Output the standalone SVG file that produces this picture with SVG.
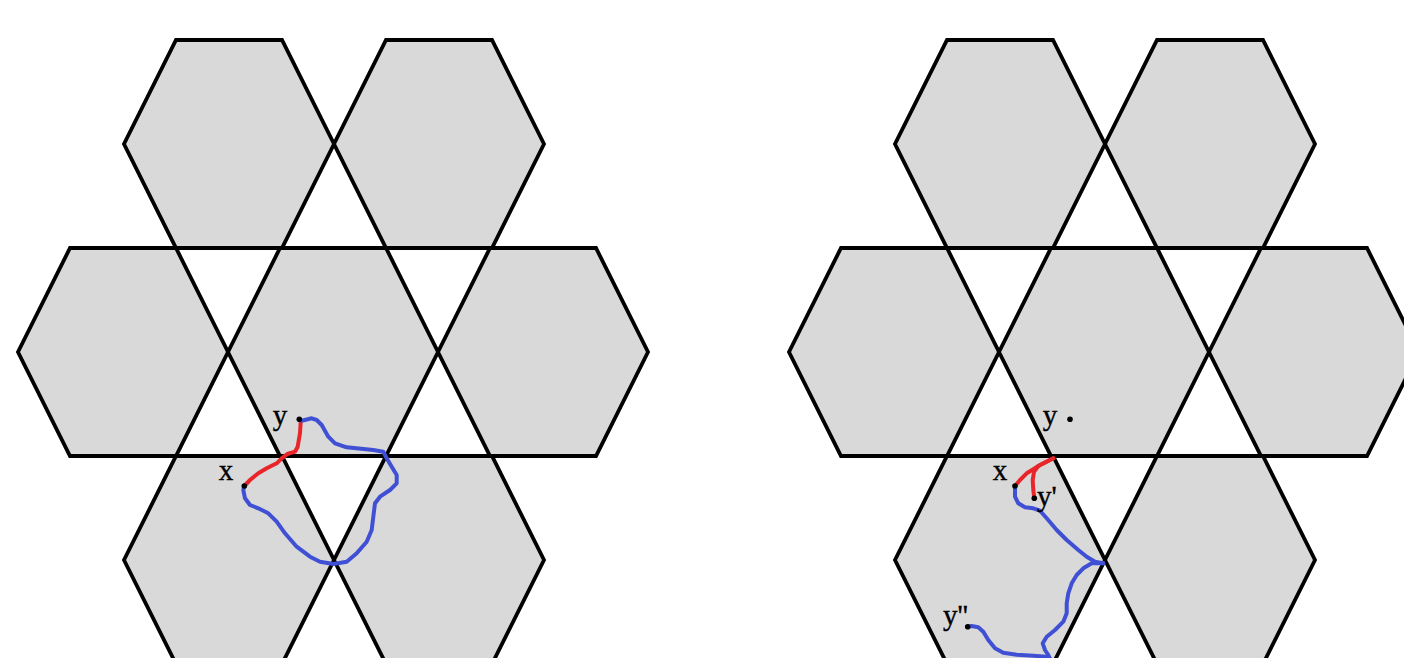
<svg xmlns="http://www.w3.org/2000/svg" width="1404" height="658" viewBox="0 0 1404 658">
<defs>
<style>
.hex{fill:#d9d9d9;stroke:#000;stroke-width:3.8;stroke-linejoin:miter}
.red{fill:none;stroke:#e8262a;stroke-width:4;stroke-linecap:round;stroke-linejoin:round}
.blue{fill:none;stroke:#4050d4;stroke-width:4;stroke-linecap:round;stroke-linejoin:round}
.lbl{font-family:"Liberation Serif","Times New Roman",serif;font-size:29px;fill:#000;stroke:#000;stroke-width:0.4}
.dot{fill:#000}
</style>
<polygon id="hexshape" points="-53,-104 53,-104 105,0 53,104 -53,104 -105,0"/>
</defs>
<rect width="1404" height="658" fill="#fff"/>
<g id="left-figure">
<g id="L-top-1"><use href="#hexshape" class="hex" x="229" y="144"/></g>
<g id="L-top-2"><use href="#hexshape" class="hex" x="439" y="144"/></g>
<g id="L-mid-1"><use href="#hexshape" class="hex" x="123" y="352"/></g>
<g id="L-mid-2"><use href="#hexshape" class="hex" x="333" y="352"/></g>
<g id="L-mid-3"><use href="#hexshape" class="hex" x="543" y="352"/></g>
<g id="L-bot-1"><use href="#hexshape" class="hex" x="229" y="560"/></g>
<g id="L-bot-2"><use href="#hexshape" class="hex" x="439" y="560"/></g>
</g>
<g id="right-figure">
<g id="R-top-1"><use href="#hexshape" class="hex" x="1000" y="144"/></g>
<g id="R-top-2"><use href="#hexshape" class="hex" x="1210" y="144"/></g>
<g id="R-mid-1"><use href="#hexshape" class="hex" x="894" y="352"/></g>
<g id="R-mid-2"><use href="#hexshape" class="hex" x="1104" y="352"/></g>
<g id="R-mid-3"><use href="#hexshape" class="hex" x="1314" y="352"/></g>
<g id="R-bot-1"><use href="#hexshape" class="hex" x="1000" y="560"/></g>
<g id="R-bot-2"><use href="#hexshape" class="hex" x="1210" y="560"/></g>
</g>
<g id="connectors">
<path class="red" d="M299.3,419.3 L300.7,421.7 L300,433 L297.7,446.7 L295,451.7 L287.3,454 L281.7,458.3 L276.7,463.3 L266.7,468.3 L258.3,473.3 L250,480 L244.3,486"/>
<path class="blue" d="M299.3,419.3 L301.7,420.7 L311.7,418.3 L316.7,420 L321.7,425 L328.3,436.7 L335,443.3 L346.7,447.3 L373.3,450 L383.3,451.7 L386.7,458.3 L391.7,466.7 L396.7,475 L396.7,483.3 L390,490 L380,496.7 L375,503.3 L373.3,516.7 L371.7,530 L366.7,541.7 L356.7,553.3 L346.7,561.7 L333.3,564 L320,561.7 L310,556.7 L296.7,546.7 L285,533.3 L276.7,521.7 L268.3,513.3 L258.3,508.3 L250,505 L245,498.3 L243.3,490 L244.3,486"/>
<path class="red" d="M1015,486 L1020,480 L1026.7,473.3 L1033.3,469.3 L1040,465 L1048.3,460.7 L1053.3,458.3"/>
<path class="red" d="M1034.3,498.3 L1033.3,490 L1032.7,480 L1034,471.7 L1038.3,466 L1046.7,461.7 L1053.3,458.3"/>
<path class="blue" d="M1015,486.7 L1015,496.7 L1018.3,503.3 L1025,507.3 L1033.3,508.3 L1040,510.7 L1046.7,518.3 L1056.7,530 L1066.7,540 L1078.3,550 L1086.7,556.7 L1095,561.7 L1103.3,563.3"/>
<path class="blue" d="M1103.3,563.3 L1091.7,563.3 L1083.3,568.3 L1076.7,575 L1071.7,583.3 L1068.3,593.3 L1066.7,603.3 L1066.7,613.3 L1063.3,621.7 L1055,630 L1046.7,636.7 L1042.7,643.3 L1045,650 L1048.3,655 L1050,659"/>
<path class="blue" d="M967.7,626.7 L971.7,626 L978.3,627.3 L983.3,631.7 L988.3,640 L995,648.3 L1003.3,652.7 L1016.7,654.7 L1033.3,655.7 L1046.7,656.7 L1050,659"/>
</g>
<g id="points">
<circle class="dot" cx="299.3" cy="419.3" r="2.8"/>
<circle class="dot" cx="244.3" cy="486" r="2.8"/>
<circle class="dot" cx="1070" cy="419.3" r="2.8"/>
<circle class="dot" cx="1015" cy="486" r="2.8"/>
<circle class="dot" cx="1034.3" cy="498.3" r="2.8"/>
<circle class="dot" cx="967.7" cy="626.7" r="2.8"/>
</g>
<g id="labels">
<text class="lbl" x="280" y="425" text-anchor="middle">y</text>
<text class="lbl" x="226" y="480" text-anchor="middle">x</text>
<text class="lbl" x="1050" y="425" text-anchor="middle">y</text>
<text class="lbl" x="1000" y="480" text-anchor="middle">x</text>
<text class="lbl" x="1037" y="506">y'</text>
<text class="lbl" x="943" y="625">y''</text>
</g>
</svg>
